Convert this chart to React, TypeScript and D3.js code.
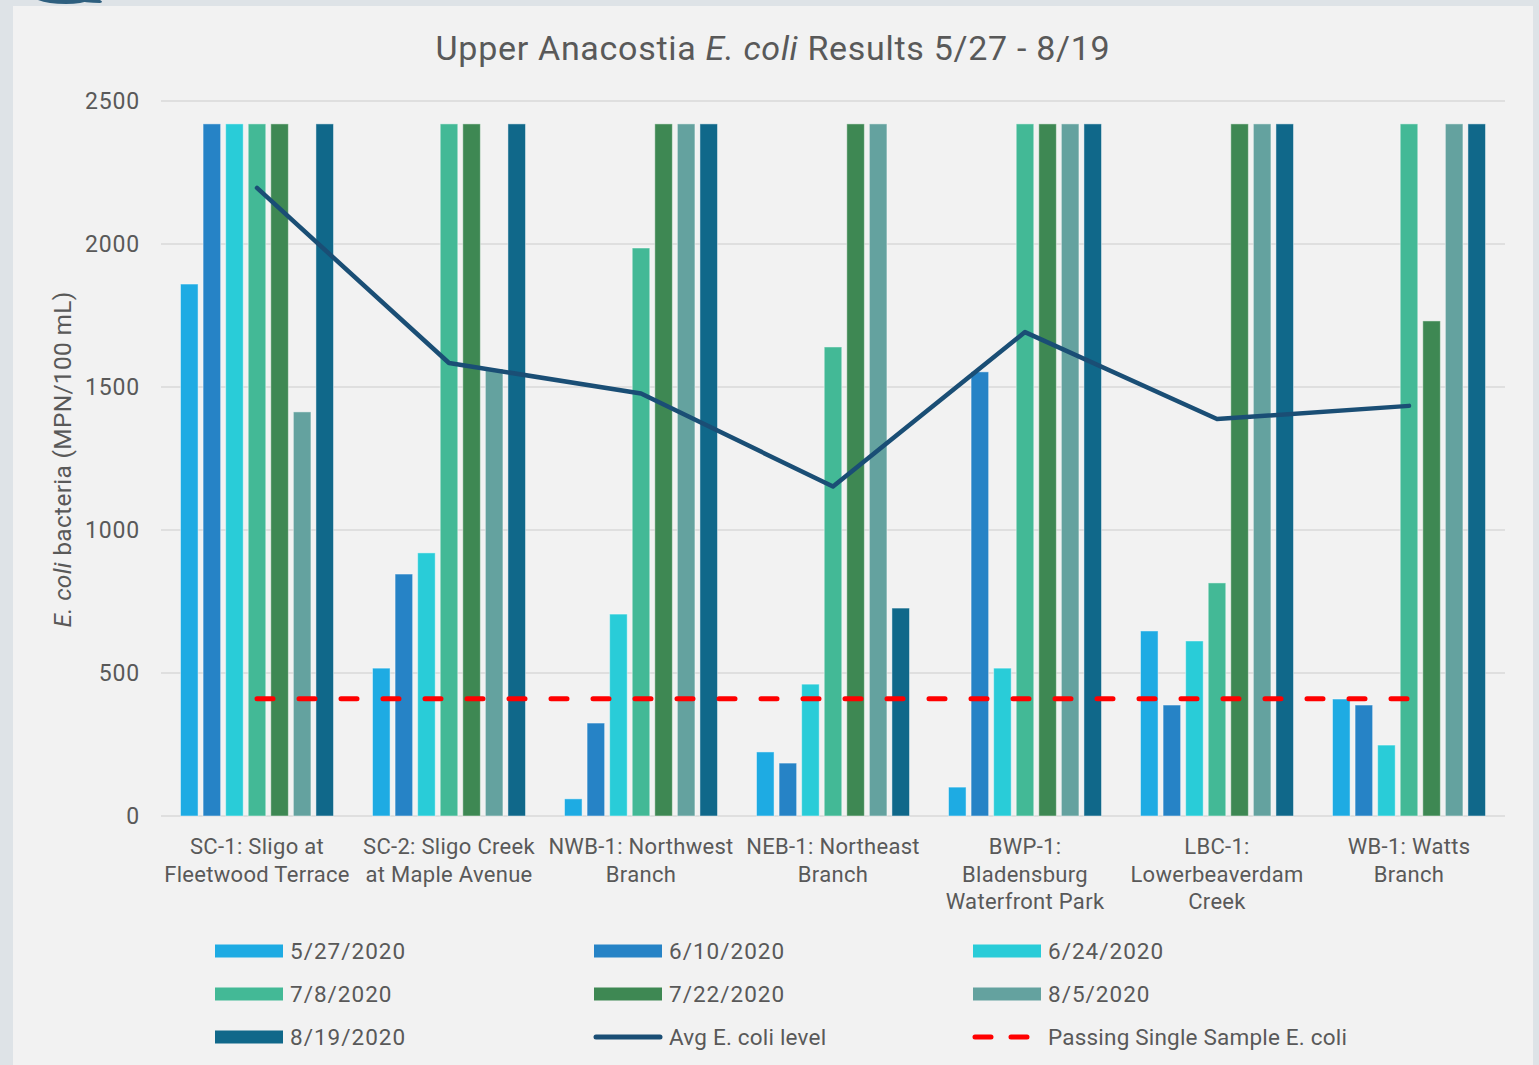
import React from "react";
import * as d3 from "d3";

const sites = [
  ["SC-1: Sligo at", "Fleetwood Terrace"],
  ["SC-2: Sligo Creek", "at Maple Avenue"],
  ["NWB-1: Northwest", "Branch"],
  ["NEB-1: Northeast", "Branch"],
  ["BWP-1:", "Bladensburg", "Waterfront Park"],
  ["LBC-1:", "Lowerbeaverdam", "Creek"],
  ["WB-1: Watts", "Branch"],
];
const siteKeys = ["SC-1", "SC-2", "NWB-1", "NEB-1", "BWP-1", "LBC-1", "WB-1"];

const dates = ["5/27/2020", "6/10/2020", "6/24/2020", "7/8/2020", "7/22/2020", "8/5/2020", "8/19/2020"];
const colours = ["#1eabe3", "#2683c6", "#29ccd8", "#43b996", "#3e8853", "#64a29f", "#10688a"];

// one array per site, in date order
const sc1 = [1860, 2420, 2420, 2420, 2420, 1413, 2420];
const sc2 = [517, 846, 920, 2420, 2420, 1563, 2420];
const nwb1 = [60, 325, 706, 1986, 2420, 2420, 2420];
const neb1 = [224, 185, 461, 1640, 2420, 2420, 727];
const bwp1 = [101, 1553, 517, 2420, 2420, 2420, 2420];
const lbc1 = [647, 388, 612, 815, 2420, 2420, 2420];
const wb1 = [409, 388, 248, 2420, 1731, 2420, 2420];
const results = [sc1, sc2, nwb1, neb1, bwp1, lbc1, wb1];

const avgLevel = [2196, 1584, 1477, 1152, 1692, 1388, 1434];
const passing = 410;
const yTicks = [0, 500, 1000, 1500, 2000, 2500];

const font = "Roboto, 'Liberation Sans', sans-serif";
const txt = "#595959";

const App = () => {
  const W = 1539, H = 1065;
  const left = 161, right = 1505, top = 101, bottom = 816;

  const x0 = d3.scaleBand().domain(siteKeys).range([left, right]);
  const x1 = d3.scaleBand().domain(dates).range([19.5, 172.5]).paddingInner(0.222);
  const y = d3.scaleLinear().domain([0, 2500]).range([bottom, top]);
  const cx = (k) => (x0(k) as number) + x0.bandwidth() / 2;

  const avgLine = d3.line<number>().x((d, i) => cx(siteKeys[i])).y(d => y(d))(avgLevel) || "";
  const passLine = d3.line<string>().x(k => cx(k)).y(() => y(passing))(siteKeys) || "";

  const legendCols = [215, 594, 973];
  const legendRows = [951, 994, 1037];
  const legendItems = [
    ...dates.map((d, i) => ({ label: d, kind: "bar", colour: colours[i] })),
    { label: "Avg E. coli level", kind: "line", colour: "#1a4e75" },
    { label: "Passing Single Sample E. coli", kind: "dash", colour: "#ff0000" },
  ];

  return (
    <svg width={W} height={H} style={{ position: "absolute", left: 0, top: 0 }} fontFamily={font}>
      <rect x={0} y={0} width={W} height={H} fill="#dee3e7" />
      <rect x={13} y={6} width={1520} height={H} fill="#f2f2f2" />
      <path d="M38,0 Q48,4 66,4 Q82,4 90,0 Z M74,0 Q86,3 100,3 Q104,2 100,0 Z" fill="#2e5f7f" />

      <text x={773} y={60} textAnchor="middle" fontSize={34} letterSpacing={0.7} fill={txt}>
        Upper Anacostia <tspan fontStyle="italic">E. coli</tspan> Results 5/27 - 8/19
      </text>

      {yTicks.map(t => (
        <g key={t}>
          <line x1={left} x2={right} y1={y(t)} y2={y(t)} stroke="#d9d9d9" strokeWidth={1.5} />
          <text x={140} y={y(t)} dy="0.35em" textAnchor="end" fontSize={23} letterSpacing={0.8} fill={txt}>{t}</text>
        </g>
      ))}

      <text transform={`translate(71,${(top + bottom) / 2 + 1}) rotate(-90)`} textAnchor="middle" fontSize={24.5} letterSpacing={0.3} fill={txt}>
        <tspan fontStyle="italic">E. coli</tspan> bacteria (MPN/100 mL)
      </text>

      {results.map((vals, si) => (
        <g key={siteKeys[si]} transform={`translate(${x0(siteKeys[si])},0)`}>
          {vals.map((v, di) => (
            <rect key={di} x={x1(dates[di])} y={y(v)} width={x1.bandwidth()} height={bottom - y(v)}
              fill={colours[di]} stroke="#ffffff" strokeOpacity={0.45} strokeWidth={1} />
          ))}
        </g>
      ))}

      <path d={avgLine} fill="none" stroke="#1a4e75" strokeWidth={4.5} strokeLinecap="round" strokeLinejoin="round" />
      <path d={passLine} fill="none" stroke="#ff0000" strokeWidth={5} strokeDasharray="16 26" strokeLinecap="round" />

      {sites.map((lines, si) => (
        <text key={si} x={cx(siteKeys[si])} y={854} textAnchor="middle" fontSize={22} letterSpacing={0.3} fill={txt}>
          {lines.map((l, li) => (
            <tspan key={li} x={cx(siteKeys[si])} dy={li === 0 ? 0 : 27.5}>{l}</tspan>
          ))}
        </text>
      ))}

      {legendItems.map((it, i) => {
        const lx = legendCols[i % 3];
        const ly = legendRows[Math.floor(i / 3)];
        return (
          <g key={it.label}>
            {it.kind === "bar" && <rect x={lx} y={ly - 6.5} width={68} height={13} fill={it.colour} />}
            {it.kind === "line" && <line x1={lx + 2} x2={lx + 66} y1={ly} y2={ly} stroke={it.colour} strokeWidth={5} strokeLinecap="round" />}
            {it.kind === "dash" && <line x1={lx + 2} x2={lx + 66} y1={ly} y2={ly} stroke={it.colour} strokeWidth={5} strokeDasharray="16 20" strokeLinecap="round" />}
            <text x={lx + 75} y={ly} dy="0.36em" fontSize={22.5} letterSpacing={it.kind === "bar" ? 1 : 0.2} fill={txt}>{it.label}</text>
          </g>
        );
      })}
    </svg>
  );
};

export default App;
